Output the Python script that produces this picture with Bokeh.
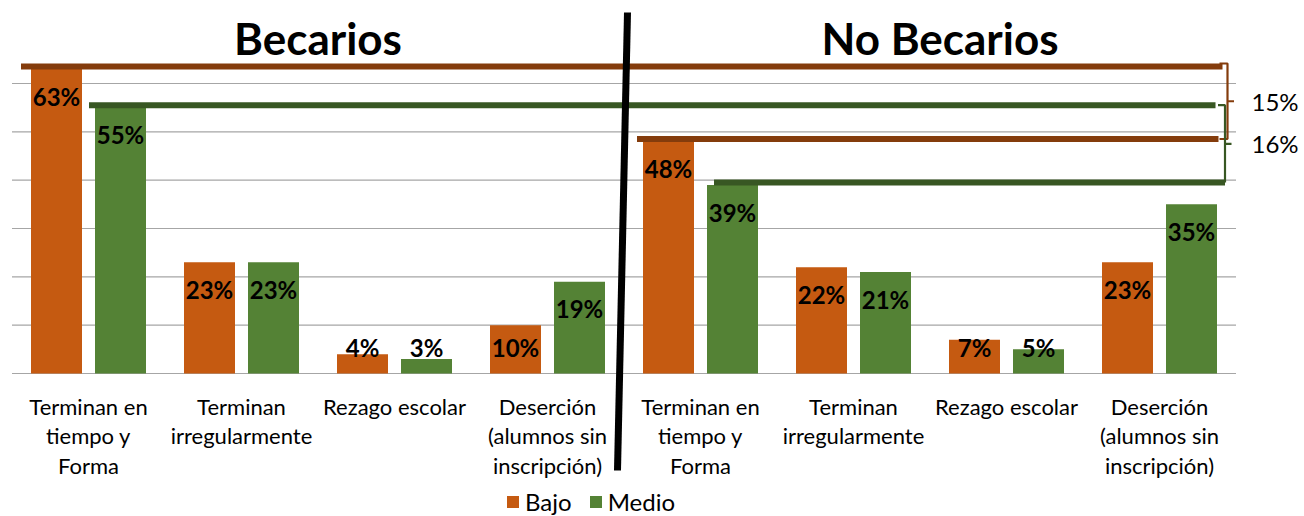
import numpy as np
from bokeh.plotting import figure
from bokeh.models import Range1d, Legend, LegendItem
from bokeh.core.properties import value
from bokeh.embed import file_html
from bokeh.resources import INLINE

# ---------------- data ----------------
groups = ["Becarios", "No Becarios"]
categories = [
    "Terminan en\ntiempo y\nForma",
    "Terminan\nirregularmente",
    "Rezago escolar",
    "Deserción\n(alumnos sin\ninscripción)",
]
series = ["Bajo", "Medio"]
bajo_becarios = [63, 23, 4, 10]
medio_becarios = [55, 23, 3, 19]
bajo_no_becarios = [48, 22, 7, 23]
medio_no_becarios = [39, 21, 5, 35]
gridline_values = [0, 10, 20, 30, 40, 50, 60]

# ---------------- style ----------------
FONT = "Lato"
fill = {"Bajo": "#C55A11", "Medio": "#548235"}
dark = {"Bajo": "#843C0C", "Medio": "#385723"}
GRID = "#A6A6A6"

W, H = 1304, 516
PX_CAT = 153.0        # pixels per category
PX_PCT = 4.8333       # pixels per percent
LEFT_PX = 11.5        # plot-area left edge in canvas
BASE_PX = 373.0       # baseline, from canvas top

x_start = -LEFT_PX / PX_CAT
x_end = (W - LEFT_PX) / PX_CAT
y_end = BASE_PX / PX_PCT
y_start = -(H - BASE_PX) / PX_PCT

def px_x(px):
    return px / PX_CAT

def px_y(px):
    return px / PX_PCT

p = figure(width=W, height=H, x_range=Range1d(x_start, x_end),
           y_range=Range1d(y_start, y_end), output_backend="svg",
           toolbar_location=None, x_axis_type=None, y_axis_type=None,
           min_border=0)
p.outline_line_color = None
p.background_fill_color = "white"
p.border_fill_color = "white"

n_cat = len(categories)
n_all = n_cat * len(groups)
cat_x = np.arange(n_all) + 0.5
bajo = np.array(bajo_becarios + bajo_no_becarios, dtype=float)
medio = np.array(medio_becarios + medio_no_becarios, dtype=float)
vals = {"Bajo": bajo, "Medio": medio}

dodge = px_x(32)
bar_w = px_x(51)
offs = {"Bajo": -dodge, "Medio": dodge}

# grid lines
p.segment(x0=[0] * len(gridline_values), x1=[n_all] * len(gridline_values),
          y0=gridline_values, y1=gridline_values, line_color=GRID, line_width=1.2)

# bars
rend = {}
for s in series:
    rend[s] = p.vbar(x=cat_x + offs[s], top=vals[s], width=bar_w, bottom=0,
                     fill_color=fill[s], line_color=None)

# highlight lines & brackets (first category of each group)
first = {"Bajo": (bajo_becarios[0], bajo_no_becarios[0]),
         "Medio": (medio_becarios[0], medio_no_becarios[0])}
start_off = {"Bajo": (-10, -6), "Medio": (-6, 7)}
end_off = {"Bajo": (-13.5, -17.5), "Medio": (-20.5, -11)}
vert_off = {"Bajo": -8.5, "Medio": -11}
hook = {"Bajo": 8, "Medio": 7}
lift = px_y(2.5)
for s in series:
    hi, lo = first[s]
    line_y = [hi + lift, lo + lift]
    bar_left = [0.5 + offs[s] - bar_w / 2, n_cat + 0.5 + offs[s] - bar_w / 2]
    x0 = [bar_left[i] + px_x(start_off[s][i]) for i in range(2)]
    x1 = [n_all + px_x(end_off[s][i]) for i in range(2)]
    p.segment(x0=x0, x1=x1, y0=line_y, y1=line_y, line_color=dark[s],
              line_width=6, line_cap="butt")
    vx = n_all + px_x(vert_off[s])
    top = line_y[0] + (px_y(3) if s == "Bajo" else 0)
    bot = line_y[1]
    mid = (top + bot) / 2
    xs = [vx - px_x(hook[s]), vx, vx, vx - px_x(hook[s])] if s == "Bajo" else \
         [vx - px_x(hook[s]), vx, vx]
    ys = [top, top, bot, bot] if s == "Bajo" else [top, top, bot]
    p.line(xs, ys, line_color=dark[s], line_width=2.2)
    p.segment(x0=[vx], x1=[vx + px_x(6.5)], y0=[mid], y1=[mid],
              line_color=dark[s], line_width=2.2)
    p.text(x=[n_all + px_x(15.5)], y=[mid], text=[f"{hi - lo}%"],
           text_font=value(FONT), text_font_size="24px", text_color="black",
           text_align="left", text_baseline="middle")

# data labels
for s in series:
    ly = np.maximum(vals[s] - px_y(27), px_y(26))
    p.text(x=cat_x + offs[s], y=ly, text=[f"{int(v)}%" for v in vals[s]],
           text_font=value(FONT), text_font_style="bold", text_font_size="24px",
           text_color="black", text_align="center", text_baseline="middle")

# category labels
p.text(x=cat_x, y=[0] * n_all, text=categories * len(groups), y_offset=19,
       text_font=value(FONT), text_font_size="22px", text_color="black",
       text_align="center", text_baseline="top", text_line_height=1.1)

# group titles
p.text(x=[n_cat / 2, n_cat + n_cat / 2], y=[px_y(BASE_PX - 37)] * 2, text=groups,
       x_offset=[0, 10], text_font=value(FONT), text_font_style="bold",
       text_font_size="44px", text_color="black", text_align="center",
       text_baseline="middle")

# divider between groups
p.segment(x0=[n_cat + px_x(3.5)], y0=[px_y(BASE_PX - 12)],
          x1=[n_cat - px_x(6.5)], y1=[-px_y(97)], line_color="black",
          line_width=7, line_cap="butt")

legend = Legend(items=[LegendItem(label=s, renderers=[rend[s]]) for s in series],
                location=(505, 0), orientation="horizontal", glyph_width=15,
                glyph_height=15, label_text_font=FONT, label_text_font_size="24px",
                label_text_color="black", label_standoff=5, spacing=16, padding=0,
                margin=0, border_line_color=None, background_fill_alpha=0)
p.add_layout(legend)

open("out.html", "w", encoding="utf-8").write(file_html(p, INLINE))
